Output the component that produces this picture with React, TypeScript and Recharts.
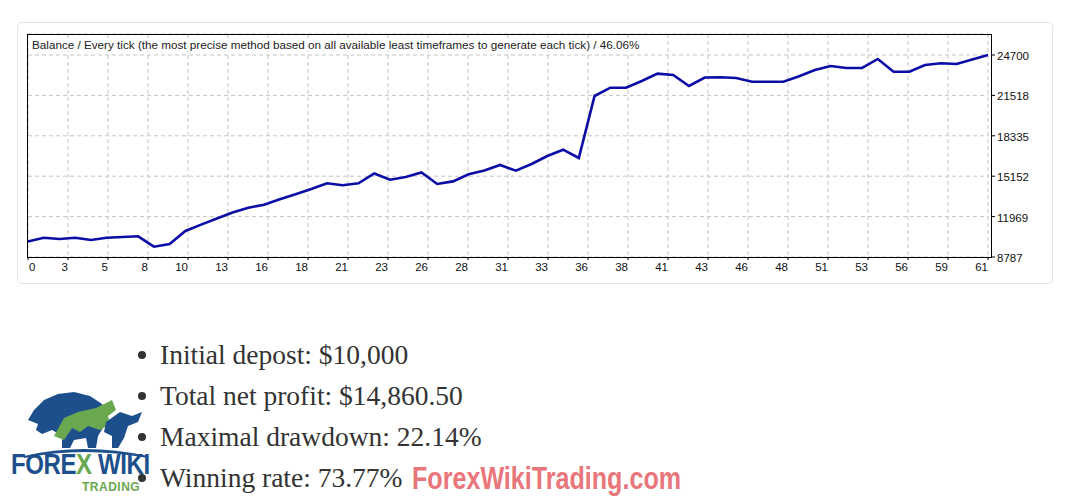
import React from 'react';
import { LineChart, Line, XAxis, YAxis, CartesianGrid } from 'recharts';

const tradeNumbers = Array.from({ length: 62 }, (_, i) => i);
const balances = [
  10000, 10307, 10205, 10307, 10126, 10307, 10363, 10418, 9598, 9811,
  10835, 11340, 11820, 12293, 12663, 12907, 13333, 13734, 14144, 14593,
  14436, 14593, 15365, 14877, 15089, 15444, 14538, 14743, 15302, 15602,
  16035, 15586, 16113, 16744, 17240, 16586, 21471, 22124, 22124, 22652,
  23227, 23125, 22258, 22928, 22944, 22889, 22597, 22597, 22597, 23030,
  23519, 23834, 23676, 23676, 24385, 23385, 23385, 23913, 24047, 23992,
  24346, 24700,
];
const xTickLabels = ['0', '3', '5', '8', '10', '13', '16', '18', '21', '23', '26', '28', '31', '33', '36', '38', '41', '43', '46', '48', '51', '53', '56', '59', '61'];
const yTicks = [8787, 11969, 15152, 18335, 21518, 24700];
const yMax = 26354;
const titleText = 'Balance / Every tick (the most precise method based on all available least timeframes to generate each tick) / 46.06%';
const statLines = ['Initial depost: $10,000', 'Total net profit: $14,860.50', 'Maximal drawdown: 22.14%', 'Winning rate: 73.77%'];

const data = tradeNumbers.map((t, i) => ({ trade: t, balance: balances[i] }));
const lastTrade = tradeNumbers[tradeNumbers.length - 1];
const xTicks = xTickLabels.map((_, k) => (k * lastTrade) / (xTickLabels.length - 1));

const axisFont = "'Liberation Sans', Arial, sans-serif";

const XTick = (props: any) => {
  const { x, y, index } = props;
  const first = index === 0;
  return (
    <g>
      <line x1={x} x2={x} y1={257} y2={260} stroke="#000" />
      <text x={first ? x + 1 : x} y={y + 14} textAnchor={first ? 'start' : 'end'} fontFamily={axisFont} fontSize={11.5} fill="#111">
        {xTickLabels[index]}
      </text>
    </g>
  );
};

const YTick = (props: any) => {
  const { y, payload } = props;
  return (
    <g>
      <line x1={991} x2={995} y1={y} y2={y} stroke="#000" />
      <text x={997} y={y + 5} textAnchor="start" fontFamily={axisFont} fontSize={11.5} fill="#111">
        {payload.value}
      </text>
    </g>
  );
};

const Logo = () => (
  <div style={{ position: 'absolute', left: 8, top: 386, width: 150, height: 110 }}>
    <svg width={150} height={72} style={{ position: 'absolute', left: 0, top: 0 }}>
      <path d="M20 34 L26 24 L36 14 L50 8 L66 6 L82 10 L94 18 L100 28 L96 40 L90 50 L88 62 L80 62 L78 52 L66 54 L62 62 L54 62 L54 50 L44 44 L34 48 L28 44 L30 38 Z" fill="#1c4f8c" />
      <path d="M46 50 L56 32 L70 26 L88 22 L104 14 L108 24 L100 30 L102 38 L92 44 L80 40 L72 46 L64 42 L56 54 Z" fill="#6aa84f" />
      <path d="M98 36 L112 26 L124 30 L134 26 L130 36 L120 40 L116 52 L110 62 L104 62 L104 50 L96 46 Z" fill="#1c4f8c" />
      <path d="M16 70 Q75 56 140 70 L140 72 Q75 60 16 72 Z" fill="#1c4f8c" />
    </svg>
    <div style={{ position: 'absolute', left: 3, top: 66, fontFamily: "'Liberation Sans', sans-serif", fontWeight: 700, fontSize: 30, color: '#1c4f8c', whiteSpace: 'nowrap', letterSpacing: -0.5, lineHeight: '24px', transform: 'scaleX(0.8)', transformOrigin: 'left top' }}>
      FORE<span style={{ color: '#6aa84f' }}>X</span> WIKI
    </div>
    <div style={{ position: 'absolute', left: 74, top: 95, fontFamily: "'Liberation Sans', sans-serif", fontWeight: 700, fontSize: 12, color: '#6aa84f', letterSpacing: 0.5, lineHeight: '12px' }}>
      TRADING
    </div>
  </div>
);

export default function App() {
  return (
    <div style={{ position: 'absolute', left: 0, top: 0, width: 1073, height: 503, background: '#fff', overflow: 'hidden' }}>
      <div style={{ position: 'absolute', left: 17, top: 22, width: 1036, height: 262, border: '1px solid #e4e4e4', borderRadius: 5, boxSizing: 'border-box' }} />
      <div style={{ position: 'absolute', left: 0, top: 0 }}>
        <LineChart width={1073} height={300} data={data} margin={{ top: 34, left: 28, right: 0, bottom: 0 }}>
          <CartesianGrid stroke="#c4c4c4" strokeDasharray="4 3" />
          <XAxis
            dataKey="trade"
            type="number"
            domain={[0, lastTrade]}
            ticks={xTicks}
            interval={0}
            axisLine={false}
            tickLine={false}
            tickSize={0}
            tickMargin={0}
            height={43}
            tick={<XTick />}
          />
          <YAxis
            orientation="right"
            type="number"
            domain={[yTicks[0], yMax]}
            ticks={yTicks}
            interval={0}
            axisLine={false}
            tickLine={false}
            tickSize={0}
            tickMargin={0}
            width={85}
            tick={<YTick />}
          />
          <Line type="linear" dataKey="balance" stroke="#0c0ca6" strokeWidth={2.6} dot={false} isAnimationActive={false} />
        </LineChart>
      </div>
      <div style={{ position: 'absolute', left: 27, top: 34, width: 965, height: 224, border: '1px solid #000', boxSizing: 'border-box' }} />
      <div style={{ position: 'absolute', left: 32, top: 38, fontFamily: axisFont, fontSize: 11.7, lineHeight: '13px', color: '#222', background: '#fff', whiteSpace: 'nowrap', paddingRight: 2 }}>
        {titleText}
      </div>
      {statLines.map((s, i) => (
        <div key={i} style={{ position: 'absolute', left: 0, top: 341 + i * 41, width: 700, height: 30 }}>
          <div style={{ position: 'absolute', left: 138, top: 10, width: 8, height: 8, borderRadius: 4, background: '#333' }} />
          <div style={{ position: 'absolute', left: 160, top: 0, fontFamily: "'Liberation Serif', 'DejaVu Serif', serif", fontSize: 27.5, lineHeight: '28px', color: '#333', whiteSpace: 'nowrap' }}>
            {s}
          </div>
        </div>
      ))}
      <Logo />
      <div style={{ position: 'absolute', left: 412, top: 464, fontFamily: "'Liberation Sans', sans-serif", fontWeight: 700, fontSize: 31, lineHeight: '30px', color: '#e8767a', whiteSpace: 'nowrap', transform: 'scaleX(0.81)', transformOrigin: 'left top' }}>
        ForexWikiTrading.com
      </div>
    </div>
  );
}
